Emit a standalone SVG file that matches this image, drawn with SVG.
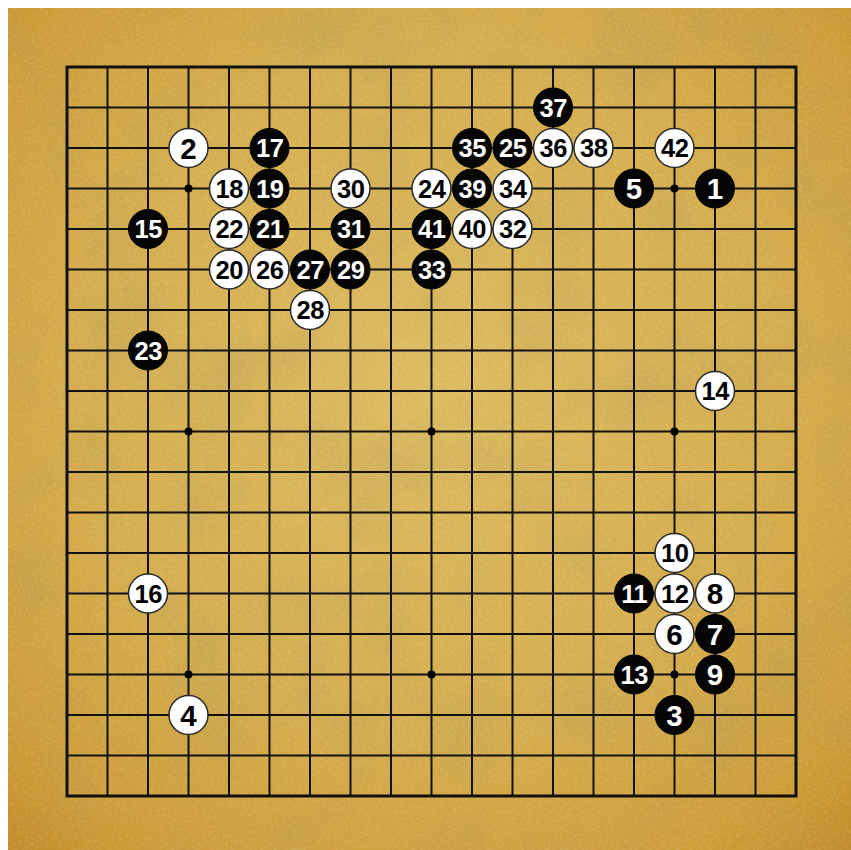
<svg xmlns="http://www.w3.org/2000/svg" width="851" height="850" viewBox="0 0 851 850">
<defs>
<radialGradient id="bg" cx="0.5" cy="0.45" r="0.75">
<stop offset="0" stop-color="#dcbb62"/>
<stop offset="0.55" stop-color="#d5ad4e"/>
<stop offset="0.85" stop-color="#cd9d3a"/>
<stop offset="1" stop-color="#c28a2a"/>
</radialGradient>
<filter id="tex" x="0" y="0" width="100%" height="100%">
<feTurbulence type="fractalNoise" baseFrequency="0.012" numOctaves="4" seed="7" result="n"/>
<feColorMatrix in="n" type="matrix" values="0 0 0 0 0.45  0 0 0 0 0.33  0 0 0 0 0.1  0 0 0 -1.4 0.75" result="c"/>
<feComposite in="c" in2="SourceGraphic" operator="in"/>
</filter>
<filter id="tex2" x="0" y="0" width="100%" height="100%">
<feTurbulence type="fractalNoise" baseFrequency="0.35" numOctaves="2" seed="3" result="n"/>
<feColorMatrix in="n" type="matrix" values="0 0 0 0 1  0 0 0 0 0.95  0 0 0 0 0.75  0 0 0 -2.2 1.2" result="c"/>
<feComposite in="c" in2="SourceGraphic" operator="in"/>
</filter>
</defs>
<style>
.grid line{stroke:#111;stroke-width:2}
.border{fill:none;stroke:#111;stroke-width:3}
.star{fill:#000}
.w circle{fill:#fff;stroke:#2a2a2a;stroke-width:1.5}
.b circle{fill:#050505;stroke:#000;stroke-width:1}
text{font-family:"Liberation Sans",Arial,sans-serif;font-weight:bold;text-anchor:middle}
.w text{fill:#000}
.b text{fill:#fff}
.d2{font-size:25.5px;letter-spacing:-0.5px;transform:translate(0.25px,0.6px)}
.d1{font-size:29.5px;transform:translateY(0.5px)}
</style>
<rect x="0" y="0" width="851" height="850" fill="#ffffff"/>
<rect x="8" y="8" width="843" height="842" fill="url(#bg)"/>
<rect x="8" y="8" width="843" height="842" fill="#fff" filter="url(#tex)" opacity="0.55"/>
<rect x="8" y="8" width="843" height="842" fill="#fff" filter="url(#tex2)" opacity="0.15"/>
<g id="board">
<g class="grid">
<line x1="67" y1="107.5" x2="796" y2="107.5"/>
<line x1="67" y1="148" x2="796" y2="148"/>
<line x1="67" y1="188.5" x2="796" y2="188.5"/>
<line x1="67" y1="229" x2="796" y2="229"/>
<line x1="67" y1="269.5" x2="796" y2="269.5"/>
<line x1="67" y1="310" x2="796" y2="310"/>
<line x1="67" y1="350.5" x2="796" y2="350.5"/>
<line x1="67" y1="391" x2="796" y2="391"/>
<line x1="67" y1="431.5" x2="796" y2="431.5"/>
<line x1="67" y1="472" x2="796" y2="472"/>
<line x1="67" y1="512.5" x2="796" y2="512.5"/>
<line x1="67" y1="553" x2="796" y2="553"/>
<line x1="67" y1="593.5" x2="796" y2="593.5"/>
<line x1="67" y1="634" x2="796" y2="634"/>
<line x1="67" y1="674.5" x2="796" y2="674.5"/>
<line x1="67" y1="715" x2="796" y2="715"/>
<line x1="67" y1="755.5" x2="796" y2="755.5"/>
<line x1="107.5" y1="67" x2="107.5" y2="796"/>
<line x1="148" y1="67" x2="148" y2="796"/>
<line x1="188.5" y1="67" x2="188.5" y2="796"/>
<line x1="229" y1="67" x2="229" y2="796"/>
<line x1="269.5" y1="67" x2="269.5" y2="796"/>
<line x1="310" y1="67" x2="310" y2="796"/>
<line x1="350.5" y1="67" x2="350.5" y2="796"/>
<line x1="391" y1="67" x2="391" y2="796"/>
<line x1="431.5" y1="67" x2="431.5" y2="796"/>
<line x1="472" y1="67" x2="472" y2="796"/>
<line x1="512.5" y1="67" x2="512.5" y2="796"/>
<line x1="553" y1="67" x2="553" y2="796"/>
<line x1="593.5" y1="67" x2="593.5" y2="796"/>
<line x1="634" y1="67" x2="634" y2="796"/>
<line x1="674.5" y1="67" x2="674.5" y2="796"/>
<line x1="715" y1="67" x2="715" y2="796"/>
<line x1="755.5" y1="67" x2="755.5" y2="796"/>
</g>
<rect class="border" x="67" y="67" width="729" height="729"/>
<circle class="star" cx="188.5" cy="188.5" r="4"/>
<circle class="star" cx="431.5" cy="188.5" r="4"/>
<circle class="star" cx="674.5" cy="188.5" r="4"/>
<circle class="star" cx="188.5" cy="431.5" r="4"/>
<circle class="star" cx="431.5" cy="431.5" r="4"/>
<circle class="star" cx="674.5" cy="431.5" r="4"/>
<circle class="star" cx="188.5" cy="674.5" r="4"/>
<circle class="star" cx="431.5" cy="674.5" r="4"/>
<circle class="star" cx="674.5" cy="674.5" r="4"/>
</g>
<g id="stones">
<g id="m1" class="b"><circle cx="715" cy="188.5" r="19.5"/><text class="d1" x="715" y="198.5">1</text></g>
<g id="m2" class="w"><circle cx="188.5" cy="148" r="19.5"/><text class="d1" x="188.5" y="158">2</text></g>
<g id="m3" class="b"><circle cx="674.5" cy="715" r="19.5"/><text class="d1" x="674.5" y="725">3</text></g>
<g id="m4" class="w"><circle cx="188.5" cy="715" r="19.5"/><text class="d1" x="188.5" y="725">4</text></g>
<g id="m5" class="b"><circle cx="634" cy="188.5" r="19.5"/><text class="d1" x="634" y="198.5">5</text></g>
<g id="m6" class="w"><circle cx="674.5" cy="634" r="19.5"/><text class="d1" x="674.5" y="644">6</text></g>
<g id="m7" class="b"><circle cx="715" cy="634" r="19.5"/><text class="d1" x="715" y="644">7</text></g>
<g id="m8" class="w"><circle cx="715" cy="593.5" r="19.5"/><text class="d1" x="715" y="603.5">8</text></g>
<g id="m9" class="b"><circle cx="715" cy="674.5" r="19.5"/><text class="d1" x="715" y="684.5">9</text></g>
<g id="m10" class="w"><circle cx="674.5" cy="553" r="19.5"/><text class="d2" x="674.5" y="561.5">10</text></g>
<g id="m11" class="b"><circle cx="634" cy="593.5" r="19.5"/><text class="d2" x="634" y="602">11</text></g>
<g id="m12" class="w"><circle cx="674.5" cy="593.5" r="19.5"/><text class="d2" x="674.5" y="602">12</text></g>
<g id="m13" class="b"><circle cx="634" cy="674.5" r="19.5"/><text class="d2" x="634" y="683">13</text></g>
<g id="m14" class="w"><circle cx="715" cy="391" r="19.5"/><text class="d2" x="715" y="399.5">14</text></g>
<g id="m15" class="b"><circle cx="148" cy="229" r="19.5"/><text class="d2" x="148" y="237.5">15</text></g>
<g id="m16" class="w"><circle cx="148" cy="593.5" r="19.5"/><text class="d2" x="148" y="602">16</text></g>
<g id="m17" class="b"><circle cx="269.5" cy="148" r="19.5"/><text class="d2" x="269.5" y="156.5">17</text></g>
<g id="m18" class="w"><circle cx="229" cy="188.5" r="19.5"/><text class="d2" x="229" y="197">18</text></g>
<g id="m19" class="b"><circle cx="269.5" cy="188.5" r="19.5"/><text class="d2" x="269.5" y="197">19</text></g>
<g id="m20" class="w"><circle cx="229" cy="269.5" r="19.5"/><text class="d2" x="229" y="278">20</text></g>
<g id="m21" class="b"><circle cx="269.5" cy="229" r="19.5"/><text class="d2" x="269.5" y="237.5">21</text></g>
<g id="m22" class="w"><circle cx="229" cy="229" r="19.5"/><text class="d2" x="229" y="237.5">22</text></g>
<g id="m23" class="b"><circle cx="148" cy="350.5" r="19.5"/><text class="d2" x="148" y="359">23</text></g>
<g id="m24" class="w"><circle cx="431.5" cy="188.5" r="19.5"/><text class="d2" x="431.5" y="197">24</text></g>
<g id="m25" class="b"><circle cx="512.5" cy="148" r="19.5"/><text class="d2" x="512.5" y="156.5">25</text></g>
<g id="m26" class="w"><circle cx="269.5" cy="269.5" r="19.5"/><text class="d2" x="269.5" y="278">26</text></g>
<g id="m27" class="b"><circle cx="310" cy="269.5" r="19.5"/><text class="d2" x="310" y="278">27</text></g>
<g id="m28" class="w"><circle cx="310" cy="310" r="19.5"/><text class="d2" x="310" y="318.5">28</text></g>
<g id="m29" class="b"><circle cx="350.5" cy="269.5" r="19.5"/><text class="d2" x="350.5" y="278">29</text></g>
<g id="m30" class="w"><circle cx="350.5" cy="188.5" r="19.5"/><text class="d2" x="350.5" y="197">30</text></g>
<g id="m31" class="b"><circle cx="350.5" cy="229" r="19.5"/><text class="d2" x="350.5" y="237.5">31</text></g>
<g id="m32" class="w"><circle cx="512.5" cy="229" r="19.5"/><text class="d2" x="512.5" y="237.5">32</text></g>
<g id="m33" class="b"><circle cx="431.5" cy="269.5" r="19.5"/><text class="d2" x="431.5" y="278">33</text></g>
<g id="m34" class="w"><circle cx="512.5" cy="188.5" r="19.5"/><text class="d2" x="512.5" y="197">34</text></g>
<g id="m35" class="b"><circle cx="472" cy="148" r="19.5"/><text class="d2" x="472" y="156.5">35</text></g>
<g id="m36" class="w"><circle cx="553" cy="148" r="19.5"/><text class="d2" x="553" y="156.5">36</text></g>
<g id="m37" class="b"><circle cx="553" cy="107.5" r="19.5"/><text class="d2" x="553" y="116">37</text></g>
<g id="m38" class="w"><circle cx="593.5" cy="148" r="19.5"/><text class="d2" x="593.5" y="156.5">38</text></g>
<g id="m39" class="b"><circle cx="472" cy="188.5" r="19.5"/><text class="d2" x="472" y="197">39</text></g>
<g id="m40" class="w"><circle cx="472" cy="229" r="19.5"/><text class="d2" x="472" y="237.5">40</text></g>
<g id="m41" class="b"><circle cx="431.5" cy="229" r="19.5"/><text class="d2" x="431.5" y="237.5">41</text></g>
<g id="m42" class="w"><circle cx="674.5" cy="148" r="19.5"/><text class="d2" x="674.5" y="156.5">42</text></g>
</g>
</svg>
